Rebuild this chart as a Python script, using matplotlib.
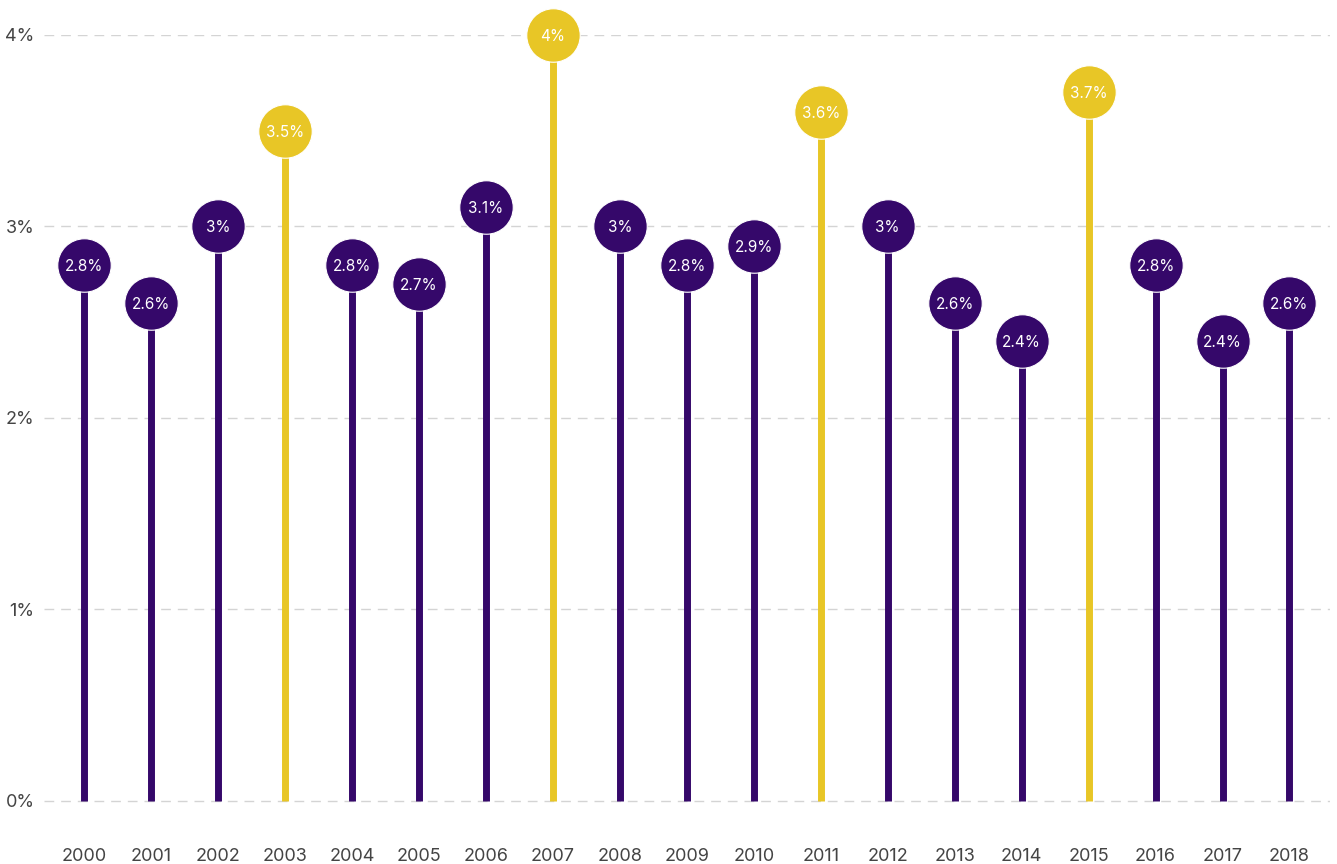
import matplotlib.pyplot as plt
from matplotlib.ticker import FuncFormatter
plt.rcParams['font.family'] = ['Inter', 'DejaVu Sans']

years = list(range(2000, 2019))
values = [2.8, 2.6, 3.0, 3.5, 2.8, 2.7, 3.1, 4.0, 3.0, 2.8, 2.9, 3.6, 3.0, 2.6, 2.4, 3.7, 2.8, 2.4, 2.6]
highlight = [2003, 2007, 2011, 2015]

purple = '#35086a'
yellow = '#e8c626'

fig = plt.figure(figsize=(13.37, 8.64), dpi=100)
ax = fig.add_axes([0.033, 0.07, 0.962, 0.8895])

for yr, v in zip(years, values):
    c = yellow if yr in highlight else purple
    ax.plot([yr, yr], [0, v], color=c, lw=5, solid_capstyle='butt', zorder=2, clip_on=False)
    ax.plot(yr, v, 'o', ms=38.5, color=c, mec='white', mew=0.8, zorder=3, clip_on=False)
    ax.text(yr, v, '{:g}%'.format(v), ha='center', va='center_baseline', color='white',
            fontsize=11, zorder=4)

ax.set_xlim(1999.4, 2018.61)
ax.set_ylim(-0.015, 4)
ax.set_yticks([0, 1, 2, 3, 4])
ax.yaxis.set_major_formatter(FuncFormatter(lambda y, p: '{:g}%'.format(y)))
ax.set_xticks(years)
ax.set_xticklabels([str(y) for y in years])
ax.grid(axis='y', color='#d4d4d4', ls=(0, (7, 5)), lw=1, zorder=0)
ax.set_axisbelow(True)
for s in ax.spines.values():
    s.set_visible(False)
ax.tick_params(axis='both', length=0, labelsize=13, labelcolor='#444444')
ax.tick_params(axis='x', pad=32)
ax.tick_params(axis='y', pad=7)

fig.savefig('out.png', dpi=100)
